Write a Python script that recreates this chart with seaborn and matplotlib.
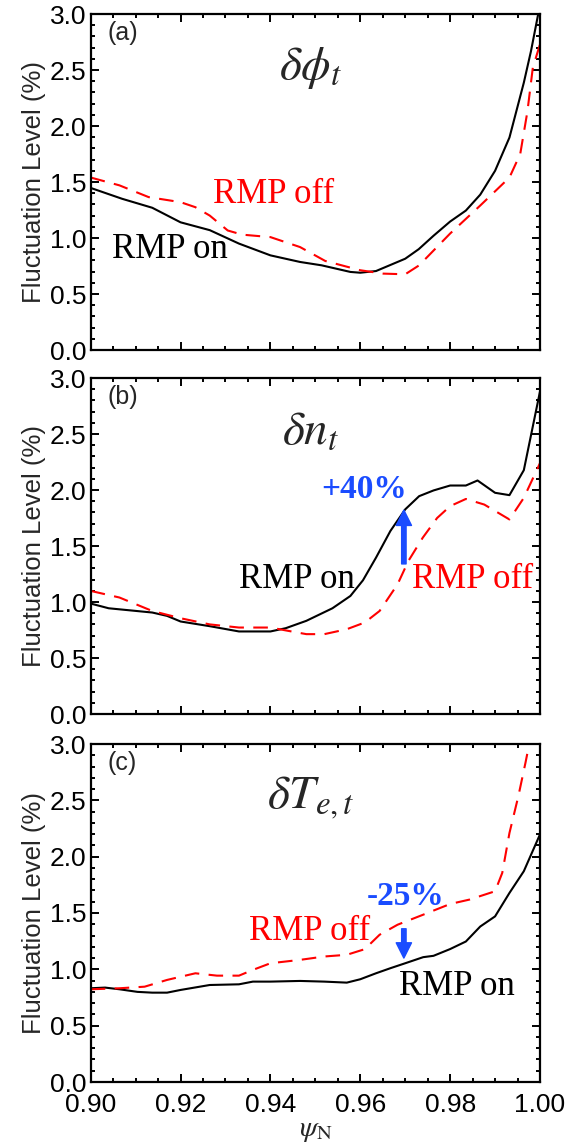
import numpy as np
import pandas as pd
import matplotlib
matplotlib.use("Agg")
import matplotlib.pyplot as plt
from matplotlib.ticker import MultipleLocator, FormatStrFormatter
import seaborn as sns

# ---------------- data ----------------
# panel (a)  delta phi_t
a_on_x = [0.900, 0.907, 0.9137, 0.920, 0.9265, 0.933, 0.940, 0.9466, 0.9514, 0.9578,
          0.960, 0.9635, 0.970, 0.973, 0.9763, 0.980, 0.9835, 0.9867, 0.990, 0.9932,
          0.9964, 0.998, 0.9996]
a_on_y = [1.447, 1.35, 1.27, 1.14, 1.07, 0.95, 0.845, 0.786, 0.756, 0.697,
          0.69, 0.705, 0.815, 0.90, 1.02, 1.147, 1.245, 1.387, 1.60, 1.897,
          2.387, 2.67, 3.0]
a_off_x = [0.900, 0.9064, 0.9129, 0.920, 0.9233, 0.9265, 0.9305, 0.9337, 0.940, 0.9466,
           0.9522, 0.960, 0.9651, 0.970, 0.9731, 0.980, 0.9867, 0.9932, 0.9956, 0.9972,
           0.9984, 1.000]
a_off_y = [1.54, 1.47, 1.365, 1.32, 1.275, 1.20, 1.067, 1.03, 1.008, 0.919,
           0.795, 0.712, 0.682, 0.676, 0.756, 1.04, 1.29, 1.54, 1.75, 2.13,
           2.52, 2.73]

# panel (b)  delta n_t
b_on_x = [0.900, 0.904, 0.9137, 0.917, 0.920, 0.9265, 0.933, 0.940, 0.9434, 0.948,
          0.9538, 0.9578, 0.9606, 0.9635, 0.9667, 0.970, 0.9731, 0.9763, 0.980, 0.9835,
          0.9861, 0.990, 0.9932, 0.9964, 1.000]
b_on_y = [0.986, 0.944, 0.906, 0.876, 0.826, 0.784, 0.737, 0.737, 0.766, 0.832,
          0.944, 1.054, 1.194, 1.396, 1.634, 1.827, 1.945, 1.996, 2.04, 2.04,
          2.085, 1.975, 1.954, 2.177, 2.88]
b_off_x = [0.900, 0.9064, 0.9137, 0.920, 0.9265, 0.933, 0.940, 0.944, 0.948, 0.952,
           0.9570, 0.961, 0.9643, 0.9683, 0.9707, 0.9739, 0.9771, 0.980, 0.9835, 0.9876,
           0.9932, 0.9964, 1.000]
b_off_y = [1.099, 1.04, 0.92, 0.855, 0.80, 0.772, 0.772, 0.742, 0.713, 0.713,
           0.757, 0.817, 0.92, 1.158, 1.366, 1.574, 1.75, 1.856, 1.92, 1.87,
           1.737, 1.93, 2.24]

# panel (c)  delta Te_t
c_on_x = [0.900, 0.9032, 0.9064, 0.9104, 0.9137, 0.917, 0.920, 0.9265, 0.933, 0.9361,
          0.940, 0.9466, 0.952, 0.9570, 0.960, 0.9635, 0.9667, 0.970, 0.974, 0.9763,
          0.980, 0.9835, 0.9867, 0.990, 0.9932, 0.9964, 1.000]
c_on_y = [0.832, 0.838, 0.823, 0.80, 0.793, 0.793, 0.817, 0.861, 0.867, 0.891,
          0.891, 0.897, 0.891, 0.882, 0.912, 0.965, 1.01, 1.054, 1.108, 1.12,
          1.18, 1.247, 1.38, 1.47, 1.678, 1.871, 2.198]
c_off_x = [0.900, 0.9064, 0.9120, 0.917, 0.9233, 0.9281, 0.933, 0.9361, 0.940, 0.9466,
           0.952, 0.9570, 0.961, 0.9643, 0.9683, 0.974, 0.980, 0.9843, 0.990, 0.9916,
           0.9932, 0.9952, 0.9968, 0.9976]
c_off_y = [0.823, 0.832, 0.846, 0.906, 0.965, 0.944, 0.944, 0.995, 1.054, 1.084,
           1.114, 1.129, 1.179, 1.307, 1.396, 1.485, 1.58, 1.619, 1.693, 1.856,
           2.21, 2.54, 2.84, 3.0]

panel_tags = ["(a)", "(b)", "(c)"]
panel_titles = [r"$\delta\phi_t$", r"$\delta n_t$", r"$\delta T_{e,t}$"]
series_labels = ["RMP on", "RMP off"]
change_labels = [None, "+40%", "-25%"]

# ---------------- style ----------------
sns.set_style("ticks")
plt.rcParams["font.family"] = ["Liberation Sans", "DejaVu Sans"]
plt.rcParams["mathtext.fontset"] = "stix"

W, H = 566, 1142
fig = plt.figure(figsize=(W / 100, H / 100), dpi=100)

left = 90.7 / W
width = 449.3 / W
tops = [14, 378, 744]
bottoms = [350, 714, 1082]

blue = "#1a4cff"
red = "#ff0000"

panels = [
    (a_on_x, a_on_y, a_off_x, a_off_y),
    (b_on_x, b_on_y, b_off_x, b_off_y),
    (c_on_x, c_on_y, c_off_x, c_off_y),
]

axes = []
for i, (onx, ony, offx, offy) in enumerate(panels):
    ax = fig.add_axes([left, 1 - bottoms[i] / H, width, (bottoms[i] - tops[i]) / H])
    axes.append(ax)
    df_on = pd.DataFrame({"psi": onx, "level": ony})
    df_off = pd.DataFrame({"psi": offx, "level": offy})
    sns.lineplot(data=df_on, x="psi", y="level", ax=ax, color="black", lw=1.5,
                 sort=False, estimator=None)
    sns.lineplot(data=df_off, x="psi", y="level", ax=ax, color=red, lw=1.5,
                 sort=False, estimator=None)
    ax.lines[-1].set_dashes((7, 4.5))
    ax.set_xlim(0.90, 1.00)
    ax.set_ylim(0.0, 3.0)
    ax.xaxis.set_major_locator(MultipleLocator(0.02))
    ax.xaxis.set_minor_locator(MultipleLocator(0.005))
    ax.yaxis.set_major_locator(MultipleLocator(0.5))
    ax.yaxis.set_minor_locator(MultipleLocator(0.1))
    ax.yaxis.set_major_formatter(FormatStrFormatter("%.1f"))
    ax.xaxis.set_major_formatter(FormatStrFormatter("%.2f"))
    ax.tick_params(which="both", direction="in", top=True, right=True, width=1.4,
                   labelsize=19, colors="black")
    ax.tick_params(axis="y", which="major", pad=3)
    ax.tick_params(axis="x", which="major", pad=8)
    ax.tick_params(which="major", length=6)
    ax.tick_params(which="minor", length=3)
    for s in ax.spines.values():
        s.set_linewidth(1.6)
        s.set_color("black")
    ax.set_ylabel("Fluctuation Level (%)", fontsize=18.5, labelpad=3)
    if i < 2:
        ax.set_xlabel("")
        ax.tick_params(labelbottom=False)
    else:
        ax.set_xlabel(r"$\psi_\mathrm{N}$", fontsize=21, labelpad=-1,
                      math_fontfamily="stix")
    ax.text(0.038, 0.978, panel_tags[i], transform=ax.transAxes, ha="left", va="top",
            fontsize=18)
    ax.text(0.949, 2.52, panel_titles[i], ha="center", va="center", fontsize=34)

serif = ["Liberation Serif", "DejaVu Serif"]
tfs = 25

# panel (a) labels
axes[0].text(0.9273, 1.315, series_labels[1], color=red, family=serif, fontsize=tfs)
axes[0].text(0.9048, 0.817, series_labels[0], color="black", family=serif, fontsize=tfs)

# panel (b) labels
axes[1].text(0.9329, 1.122, series_labels[0], color="black", family=serif, fontsize=tfs)
axes[1].text(0.9715, 1.122, series_labels[1], color=red, family=serif, fontsize=tfs)
axes[1].text(0.9514, 1.925, change_labels[1], color=blue, family=serif, fontsize=24,
             fontweight="bold")
axes[1].annotate("", xy=(0.9697, 1.82), xytext=(0.9697, 1.34),
                 arrowprops=dict(width=3.2, headwidth=11, headlength=11, color=blue,
                                 shrink=0))

# panel (c) labels
axes[2].text(0.9353, 1.26, series_labels[1], color=red, family=serif, fontsize=tfs)
axes[2].text(0.9687, 0.772, series_labels[0], color="black", family=serif, fontsize=tfs)
axes[2].text(0.9614, 1.571, change_labels[2], color=blue, family=serif, fontsize=24,
             fontweight="bold")
axes[2].annotate("", xy=(0.9697, 1.10), xytext=(0.9697, 1.36),
                 arrowprops=dict(width=3.2, headwidth=11, headlength=11, color=blue,
                                 shrink=0))

fig.savefig("out.png", dpi=100)
